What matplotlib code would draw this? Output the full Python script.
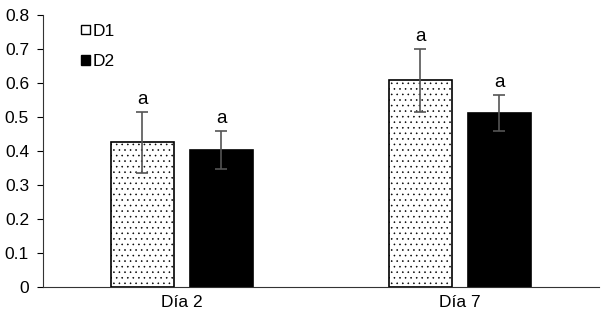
import numpy as np
import matplotlib
matplotlib.use("Agg")
import matplotlib.pyplot as plt
from matplotlib.patches import Patch

categories = ["Día 2", "Día 7"]
d1_values = [0.425, 0.607]
d1_errors = [0.090, 0.092]
d2_values = [0.403, 0.512]
d2_errors = [0.055, 0.053]
letters_d1 = ["a", "a"]
letters_d2 = ["a", "a"]

plt.rcParams["font.family"] = ["Liberation Sans", "DejaVu Sans"]
plt.rcParams["hatch.linewidth"] = 0.4
plt.rcParams["hatch.color"] = "#444444"

fig = plt.figure(figsize=(6.05, 3.16), dpi=100)
ax = fig.add_axes([0.071, 0.092, 0.919, 0.861])

x = np.arange(len(categories))
w = 0.225
off = 0.142
err_kw = dict(ecolor="#555555", elinewidth=1.2, capsize=4, capthick=1.2)

ax.bar(x - off, d1_values, w, color="white", edgecolor="black", linewidth=1.2,
       hatch="...", yerr=d1_errors, error_kw=err_kw, label="D1")
ax.bar(x + off, d2_values, w, color="black", edgecolor="black", linewidth=1.2,
       yerr=d2_errors, error_kw=err_kw, label="D2")

for xi, v, e, s in zip(x - off, d1_values, d1_errors, letters_d1):
    ax.text(xi, v + e + 0.012, s, ha="center", va="bottom", fontsize=13.5)
for xi, v, e, s in zip(x + off, d2_values, d2_errors, letters_d2):
    ax.text(xi, v + e + 0.012, s, ha="center", va="bottom", fontsize=13.5)

ax.set_xlim(-0.5, 1.5)
ax.set_ylim(0, 0.8)
ticks = np.arange(0, 0.81, 0.1)
ax.set_yticks(ticks)
ax.set_yticklabels(["0" if t == 0 else f"{t:.1f}" for t in ticks])
ax.set_xticks(x)
ax.set_xticklabels(categories)
ax.tick_params(axis="x", length=0, labelsize=12.5, pad=6)
ax.tick_params(axis="y", direction="out", length=4, labelsize=12.5, pad=6)
for side in ["top", "right"]:
    ax.spines[side].set_visible(False)
ax.spines["left"].set_color("#333333")
ax.spines["bottom"].set_color("#333333")

handles = [Patch(facecolor="white", edgecolor="black", label="D1"),
           Patch(facecolor="black", edgecolor="black", label="D2")]
ax.legend(handles=handles, loc="upper left", bbox_to_anchor=(0.04, 1.025),
          frameon=False, fontsize=12.5, handlelength=0.5, handleheight=0.5,
          handletextpad=0.2, labelspacing=0.9)

fig.savefig("out.png", dpi=100)
